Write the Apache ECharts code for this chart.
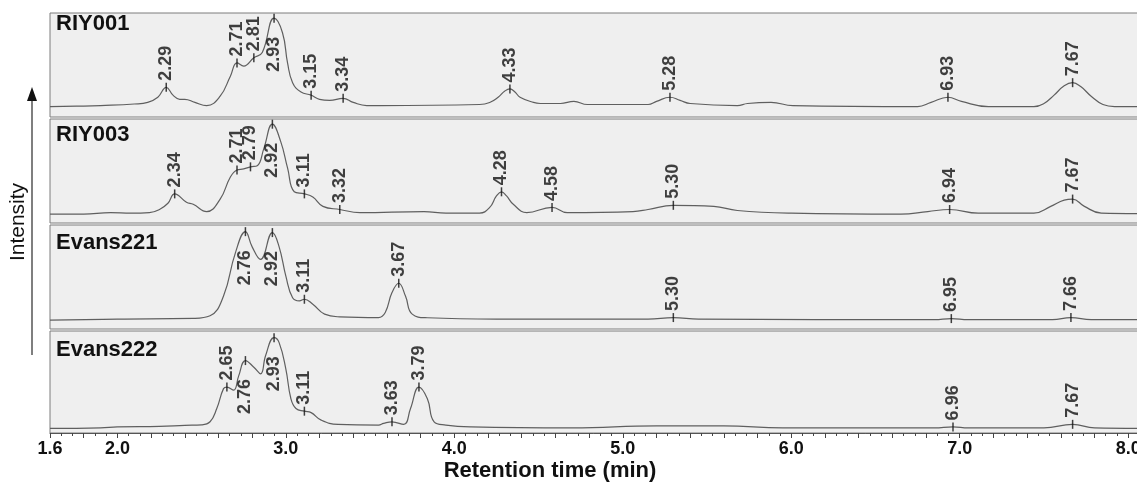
<!DOCTYPE html>
<html>
<head>
<meta charset="utf-8">
<script src="https://cdn.jsdelivr.net/npm/echarts@6/dist/echarts.min.js"></script>
<style>
  html, body { margin: 0; padding: 0; background: #fff; }
  #chart { width: 1137px; height: 483px; }
</style>
</head>
<body>
<div id="chart"></div>
<script>
// sample names (one panel each, top to bottom)
const sampleNames = ["RIY001", "RIY003", "Evans221", "Evans222"];

// retention time (min) / relative intensity
const riy001Time = [1.60, 1.80, 1.90, 2.10, 2.18, 2.24, 2.29, 2.33, 2.37, 2.40, 2.46, 2.53, 2.61, 2.67, 2.71, 2.75, 2.81, 2.86, 2.93, 2.98, 3.01, 3.04, 3.09, 3.15, 3.20, 3.26, 3.34, 3.40, 3.48, 3.56, 4.15, 4.21, 4.26, 4.30, 4.33, 4.36, 4.39, 4.47, 4.51, 4.63, 4.71, 4.79, 5.15, 5.20, 5.28, 5.34, 5.40, 5.68, 5.74, 5.88, 6.01, 6.75, 6.83, 6.93, 7.01, 7.17, 7.44, 7.50, 7.56, 7.62, 7.67, 7.72, 7.78, 7.85, 7.92, 8.07];
const riy001Signal = [10, 10.5, 11, 12.5, 14, 19, 28.5, 21, 17, 17, 14, 11, 20, 39, 52, 49, 57, 62, 95, 81, 52, 33, 24, 21, 17, 16, 18, 14, 11, 11, 12, 14, 19, 25, 27, 24, 19, 14, 13, 13, 15, 12, 12, 15, 19, 16, 13, 11, 13, 14, 11, 10, 14, 19, 15, 10, 10, 13, 21, 30, 33, 29, 20, 12, 10, 10];
const riy001Peaks = [2.29, 2.71, 2.81, 2.93, 3.15, 3.34, 4.33, 5.28, 6.93, 7.67];
const riy001PeakHeights = [28.5, 52, 57, 95, 21, 18, 27, 19, 19, 33];
const riy001Below = [2.93];

const riy003Time = [1.60, 1.80, 1.96, 2.08, 2.19, 2.25, 2.30, 2.34, 2.41, 2.45, 2.53, 2.61, 2.67, 2.71, 2.75, 2.79, 2.83, 2.87, 2.92, 2.97, 3.01, 3.05, 3.11, 3.16, 3.22, 3.32, 3.44, 3.82, 3.95, 4.15, 4.21, 4.25, 4.28, 4.31, 4.35, 4.43, 4.58, 4.67, 5.06, 5.15, 5.30, 5.54, 5.68, 6.00, 6.65, 6.81, 6.94, 7.11, 7.44, 7.54, 7.62, 7.67, 7.74, 7.84, 8.07];
const riy003Signal = [8.5, 8.6, 10, 9.5, 10, 13, 19, 28, 20, 18, 11, 23, 44, 51, 52, 54, 55, 72, 95, 78, 53, 30, 28, 25, 16, 13, 10, 11, 9.5, 9.5, 15, 26, 30, 26, 18, 10, 15, 10, 11, 13, 17, 16, 12, 9.5, 8.6, 11, 13, 9.5, 9.5, 16, 22, 23, 16, 9.5, 9];
const riy003Peaks = [2.34, 2.71, 2.79, 2.92, 3.11, 3.32, 4.28, 4.58, 5.30, 6.94, 7.67];
const riy003PeakHeights = [28, 51, 54, 95, 28, 13, 30, 15, 17, 13, 23];
const riy003Below = [2.92];

const evans221Time = [1.60, 2.00, 2.45, 2.55, 2.63, 2.70, 2.76, 2.80, 2.85, 2.92, 2.96, 3.00, 3.04, 3.08, 3.11, 3.16, 3.23, 3.32, 3.55, 3.59, 3.63, 3.67, 3.71, 3.75, 3.84, 4.25, 5.15, 5.30, 5.45, 6.85, 6.95, 7.05, 7.55, 7.66, 7.78, 8.07];
const evans221Signal = [8.6, 9.5, 10.2, 12.7, 31.7, 73, 93.6, 79, 67, 92.7, 79, 50.8, 30, 27, 28.6, 23.8, 14.3, 11.7, 11, 15.9, 35, 44, 31.7, 14.3, 10.8, 9.5, 9.5, 11, 9.5, 9, 10, 9, 9, 11, 9, 9];
const evans221Peaks = [2.76, 2.92, 3.11, 3.67, 5.30, 6.95, 7.66];
const evans221PeakHeights = [93.6, 92.7, 28.6, 44, 11, 10, 11];
const evans221Below = [2.76, 2.92];

const evans222Time = [1.60, 1.90, 2.00, 2.25, 2.40, 2.50, 2.55, 2.59, 2.63, 2.65, 2.69, 2.72, 2.76, 2.81, 2.85, 2.88, 2.93, 2.96, 3.00, 3.03, 3.06, 3.11, 3.15, 3.21, 3.31, 3.55, 3.58, 3.63, 3.70, 3.74, 3.79, 3.84, 3.88, 3.95, 4.10, 4.70, 5.20, 5.60, 5.95, 6.85, 6.96, 7.05, 7.50, 7.67, 7.80, 8.07];
const evans222Signal = [4.5, 5, 6, 6.5, 7.5, 8, 11, 24, 43.5, 45, 42, 56, 71, 64.5, 58, 76, 93.5, 88.6, 62.7, 33.6, 24, 21.4, 20, 12.6, 8.4, 7.8, 9.4, 11, 8.4, 24, 45, 33.6, 11, 7.8, 6, 5, 7, 7, 5, 5, 6, 5, 5, 8.5, 5, 4.5];
const evans222Peaks = [2.65, 2.76, 2.93, 3.11, 3.63, 3.79, 6.96, 7.67];
const evans222PeakHeights = [45, 71, 93.5, 21.4, 11, 45, 6, 8.5];
const evans222Below = [2.76, 2.93];

// x axis: labels at 1.6 and whole minutes
const xMin = 1.6;
const xMax = 8.07;
const tickStep = 0.2;

const FONT = '"Liberation Sans", Arial, sans-serif';

// panel boxes (px)
const panelTops = [13, 119, 225, 331];
const panelHeights = [104, 104, 104, 102];
const nameTops = [13, 124, 232, 339];

function zip(xs, ys) {
  return xs.map((x, i) => [x, ys[i]]);
}

// vertical tick + rotated retention time label on every peak
function peakData(peaks, heights, below) {
  return peaks.map((t, i) => {
    const under = below.indexOf(t) >= 0;
    return {
      value: [t, heights[i]],
      label: under
        ? { position: "bottom", align: "right", distance: 14 }
        : { position: "top", align: "left", distance: 2 }
    };
  });
}

const traces = [
  [riy001Time, riy001Signal, riy001Peaks, riy001PeakHeights, riy001Below],
  [riy003Time, riy003Signal, riy003Peaks, riy003PeakHeights, riy003Below],
  [evans221Time, evans221Signal, evans221Peaks, evans221PeakHeights, evans221Below],
  [evans222Time, evans222Signal, evans222Peaks, evans222PeakHeights, evans222Below]
];

const grids = [], xAxes = [], yAxes = [], series = [], titles = [];

traces.forEach((tr, i) => {
  const last = i === traces.length - 1;
  grids.push({
    left: 50, right: -3, top: panelTops[i], height: panelHeights[i],
    outerBoundsMode: "none", containLabel: false,
    show: true, backgroundColor: "#efefef", borderColor: "#7d7d7d", borderWidth: 1
  });
  xAxes.push({
    gridIndex: i, type: "value", min: xMin, max: xMax, interval: tickStep,
    show: last,
    axisLine: { show: true, lineStyle: { color: "#555", width: 1 } },
    axisTick: { show: true, length: 5, lineStyle: { color: "#444" } },
    minorTick: { show: true, splitNumber: 3, length: 3, lineStyle: { color: "#444" } },
    splitLine: { show: false },
    axisLabel: {
      margin: 7, color: "#111", fontSize: 18, fontWeight: "bold", fontFamily: FONT,
      showMaxLabel: false,
      formatter: v => (Math.abs(v - Math.round(v)) < 1e-6 || Math.abs(v - xMin) < 1e-6) ? v.toFixed(1) : ""
    }
  });
  yAxes.push({ gridIndex: i, type: "value", min: 0, max: 100, show: false });

  series.push({
    type: "line", xAxisIndex: i, yAxisIndex: i,
    data: zip(tr[0], tr[1]),
    showSymbol: false, smooth: 0.45,
    lineStyle: { color: "#5f5f5f", width: 1.2 },
    silent: true, z: 2
  });
  series.push({
    type: "scatter", xAxisIndex: i, yAxisIndex: i,
    data: peakData(tr[2], tr[3], tr[4]),
    symbol: "rect", symbolSize: [1.5, 9],
    itemStyle: { color: "#111" },
    label: {
      show: true, rotate: 90, verticalAlign: "middle",
      formatter: p => p.value[0].toFixed(2),
      color: "#111", fontSize: 18, fontWeight: "bold", fontFamily: FONT
    },
    silent: true, z: 3
  });

  titles.push({
    text: sampleNames[i], left: 56, top: nameTops[i], padding: 0,
    textStyle: { color: "#111", fontSize: 22, fontWeight: "bold", fontFamily: FONT }
  });
});

const chart = echarts.init(document.getElementById("chart"));
chart.setOption({
  animation: false,
  title: titles,
  grid: grids,
  xAxis: xAxes,
  yAxis: yAxes,
  series: series,
  graphic: [
    // Intensity arrow on the left
    { type: "line", shape: { x1: 32, y1: 355, x2: 32, y2: 99 }, style: { stroke: "#555", lineWidth: 1.5 } },
    { type: "polygon", shape: { points: [[32, 87], [27, 101], [37, 101]] }, style: { fill: "#111" } },
    {
      type: "text", x: 18, y: 222, rotation: Math.PI / 2,
      style: { text: "Intensity", fontSize: 21, fontFamily: FONT, fill: "#111", textAlign: "center", textVerticalAlign: "middle" }
    },
    // axis title
    {
      type: "text", x: 550, y: 471,
      style: { text: "Retention time (min)", fontSize: 22, fontWeight: "bold", fontFamily: FONT, fill: "#111", textAlign: "center", textVerticalAlign: "middle" }
    }
  ]
});
</script>
</body>
</html>
